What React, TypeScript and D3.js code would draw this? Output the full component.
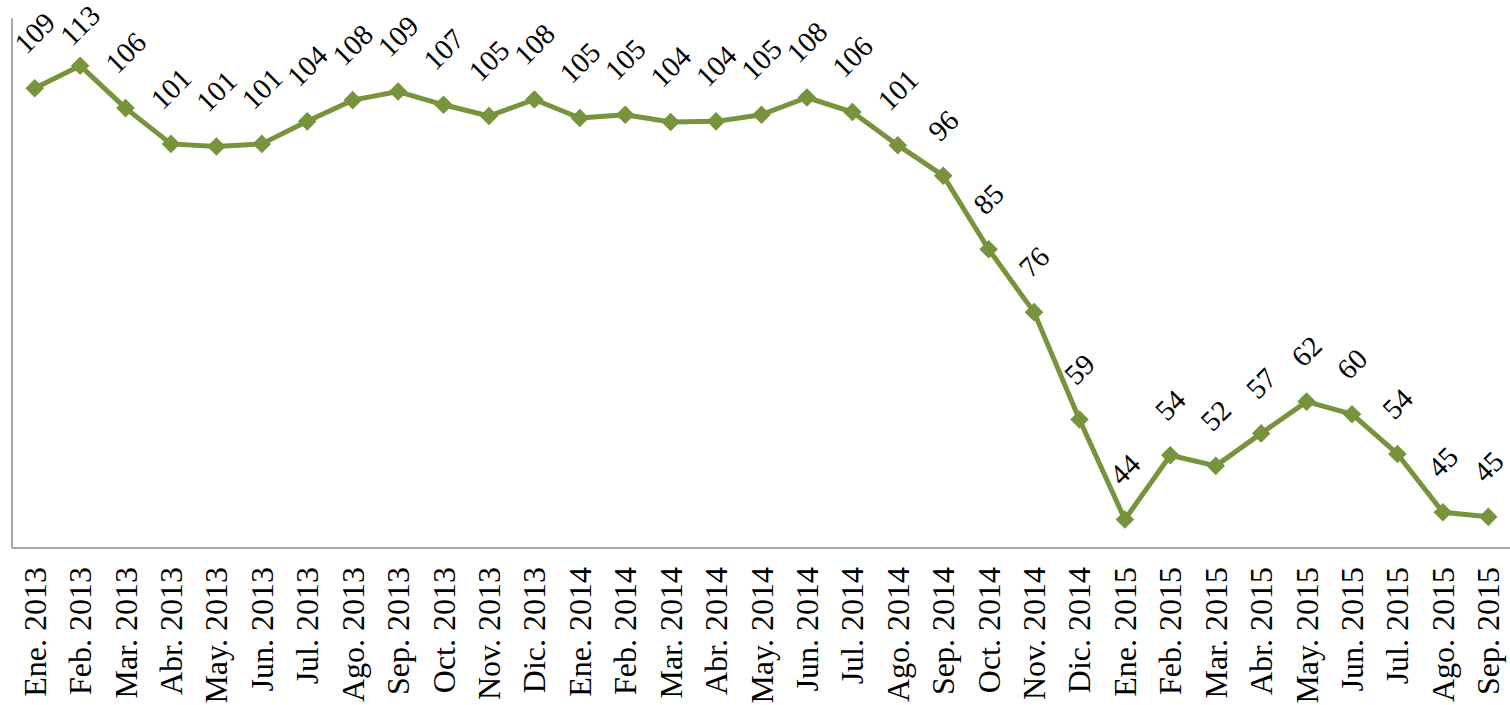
import React from "react";
import * as d3 from "d3";

const categories = [
  "Ene. 2013", "Feb. 2013", "Mar. 2013", "Abr. 2013", "May. 2013", "Jun. 2013",
  "Jul. 2013", "Ago. 2013", "Sep. 2013", "Oct. 2013", "Nov. 2013", "Dic. 2013",
  "Ene. 2014", "Feb. 2014", "Mar. 2014", "Abr. 2014", "May. 2014", "Jun. 2014",
  "Jul. 2014", "Ago. 2014", "Sep. 2014", "Oct. 2014", "Nov. 2014", "Dic. 2014",
  "Ene. 2015", "Feb. 2015", "Mar. 2015", "Abr. 2015", "May. 2015", "Jun. 2015",
  "Jul. 2015", "Ago. 2015", "Sep. 2015",
];

const values = [
  109.4, 112.8, 106.4, 101.0, 100.6, 101.0,
  104.4, 107.6, 108.9, 106.9, 105.2, 107.7,
  104.9, 105.4, 104.3, 104.4, 105.4, 108.0,
  105.8, 100.8, 96.2, 85.1, 75.6, 59.4,
  44.3, 54.0, 52.4, 57.3, 62.1, 60.2,
  54.2, 45.4, 44.7,
];

const labels = [
  "109", "113", "106", "101", "101", "101",
  "104", "108", "109", "107", "105", "108",
  "105", "105", "104", "104", "105", "108",
  "106", "101", "96", "85", "76", "59",
  "44", "54", "52", "57", "62", "60",
  "54", "45", "45",
];

const yDomain = [40, 120];

export default function App() {
  const W = 1510;
  const H = 705;
  const left = 12;
  const right = 1511;
  const top = 18;
  const bottom = 548;
  const green = "#77933C";
  const axisColor = "#8C8C8C";
  const serif = "'Liberation Serif', 'Times New Roman', serif";
  const labelSize = 29;
  const tickSize = 32;

  const x = d3.scalePoint<string>().domain(categories).range([left, right]).padding(0.5);
  const y = d3.scaleLinear().domain(yDomain).range([bottom, top]);

  const line = d3
    .line<number>()
    .x((_, i) => x(categories[i]) as number)
    .y((d) => y(d));

  const diamond = d3.symbol().type(d3.symbolDiamond2).size(220)();

  return (
    <svg
      width={W}
      height={H}
      style={{ position: "absolute", left: 0, top: 0, background: "#fff" }}
    >
      <line x1={left} y1={top} x2={left} y2={bottom} stroke={axisColor} strokeWidth={1.5} />
      <line x1={left} y1={bottom} x2={W} y2={bottom} stroke={axisColor} strokeWidth={1.5} />

      <path d={line(values) || ""} fill="none" stroke={green} strokeWidth={5} strokeLinejoin="round" />

      {values.map((v, i) => (
        <path
          key={"m" + i}
          d={diamond || ""}
          transform={`translate(${x(categories[i])},${y(v)})`}
          fill={green}
        />
      ))}

      {values.map((v, i) => {
        const px = x(categories[i]) as number;
        const py = y(v);
        const w = labels[i].length * 0.5 * labelSize;
        const h = 0.68 * labelSize;
        const boxH = (w + h) / Math.SQRT2;
        let boxTop = py - 33 - boxH;
        if (boxTop < 3) boxTop = 3;
        const cy = boxTop + boxH / 2;
        return (
          <text
            key={"l" + i}
            transform={`translate(${px},${cy}) rotate(-45)`}
            textAnchor="middle"
            dy={0.34 * labelSize}
            fontFamily={serif}
            fontSize={labelSize}
            fill="#000"
          >
            {labels[i]}
          </text>
        );
      })}

      {categories.map((c, i) => {
        const px = x(c) as number;
        return (
          <text
            key={"t" + i}
            transform={`translate(${px + 11},${567}) rotate(-90)`}
            textAnchor="end"
            fontFamily={serif}
            fontSize={tickSize}
            fill="#000"
          >
            {c}
          </text>
        );
      })}
    </svg>
  );
}
